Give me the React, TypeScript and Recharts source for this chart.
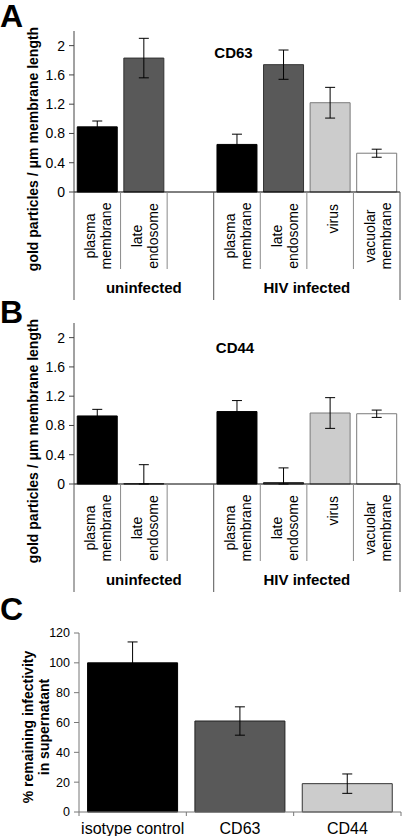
import React from 'react'
import { BarChart, Bar, XAxis, YAxis, Cell, ErrorBar } from 'recharts'

const FONT = '"Liberation Sans", Arial, Helvetica, sans-serif'

// panels A and B: seven slots, two groups
const SLOT_LABELS = [
  ['plasma', 'membrane'],
  ['late', 'endosome'],
  [],
  ['plasma', 'membrane'],
  ['late', 'endosome'],
  ['virus'],
  ['vacuolar', 'membrane'],
]
const GROUP_LABELS = ['uninfected', 'HIV infected']
const GROUP_SIZES = [3, 4]
const SLOT_FILLS = ['#000000', '#595959', '#ffffff', '#000000', '#595959', '#cccccc', '#ffffff']
const SLOT_STROKES = ['#000000', '#333333', '#ffffff', '#000000', '#333333', '#7a7a7a', '#7a7a7a']

const CD63_MEANS = [0.89, 1.83, null, 0.65, 1.74, 1.22, 0.53]
const CD63_ERRORS = [[0.08, 0.08], [0.27, 0.27], null, [0.14, 0.14], [0.2, 0.2], [0.21, 0.21], [0.055, 0.055]]
// late endosome (uninfected) is ~0: a hairline keeps its error bar drawn
const CD44_MEANS = [0.93, 0.004, null, 0.99, 0.02, 0.97, 0.96]
const CD44_ERRORS = [[0.09, 0.09], [0.004, 0.26], null, [0.15, 0.15], [0.02, 0.2], [0.21, 0.21], [0.05, 0.05]]
const EM_TICKS = [0, 0.4, 0.8, 1.2, 1.6, 2]

// panel C
const C_LABELS = ['isotype control', 'CD63', 'CD44']
const C_MEANS = [100, 61, 19]
const C_ERRORS = [14, 9.5, 6.5]
const C_FILLS = ['#000000', '#595959', '#cccccc']
const C_STROKES = ['#000000', '#222222', '#333333']
const C_TICKS = [0, 20, 40, 60, 80, 100, 120]

// layout A/B
const AB_W = 402
const AB_H = 300
const AB_TOP = 31
const AB_YW = 74
const AB_RIGHT = 2
const AB_XH = 108
const AB_BASE = AB_H - AB_XH
const AB_SLOT = (AB_W - AB_YW - AB_RIGHT) / SLOT_LABELS.length

// layout C
const C_W = 402
const C_H = 236
const C_TOP = 33
const C_YW = 79
const C_RIGHT = 1
const C_XH = 24
const C_BASE = C_H - C_XH
const C_SLOT = (C_W - C_YW - C_RIGHT) / C_LABELS.length

const GROUP_STARTS = GROUP_SIZES.map((_, i) => GROUP_SIZES.slice(0, i).reduce((a, b) => a + b, 0))

const cd63Data = SLOT_LABELS.map((_, i) => ({ slot: i, value: CD63_MEANS[i], err: CD63_ERRORS[i] }))
const cd44Data = SLOT_LABELS.map((_, i) => ({ slot: i, value: CD44_MEANS[i], err: CD44_ERRORS[i] }))
const infData = C_LABELS.map((name, i) => ({ name, value: C_MEANS[i], err: C_ERRORS[i] }))

const SlotTick = (props: any) => {
  const { x, payload } = props
  const i = Number(payload.value)
  const left = x - AB_SLOT / 2
  const right = x + AB_SLOT / 2
  const lines = SLOT_LABELS[i]
  const g = GROUP_STARTS.indexOf(i)
  const txt = { fontFamily: FONT, fontSize: 14, fill: '#000' }
  return (
    <g>
      <line x1={left} x2={left} y1={AB_BASE} y2={g >= 0 ? AB_BASE + 108 : AB_BASE + 77}
        stroke={g >= 0 ? '#555' : '#8a8a8a'} strokeWidth={1} />
      {i === SLOT_LABELS.length - 1 && (
        <line x1={right} x2={right} y1={AB_BASE} y2={AB_BASE + 108} stroke="#555" strokeWidth={1} />
      )}
      {lines.length === 1 && (
        <text x={x + 3} y={AB_BASE + 12} transform={`rotate(-90 ${x + 3} ${AB_BASE + 12})`}
          textAnchor="end" dominantBaseline="central" {...txt}>{lines[0]}</text>
      )}
      {lines.length === 2 && lines.map((s, k) => {
        const lx = x + (k === 0 ? -7 : 9)
        const ly = AB_BASE + 44
        return (
          <text key={k} x={lx} y={ly} transform={`rotate(-90 ${lx} ${ly})`}
            textAnchor="middle" dominantBaseline="central" {...txt}>{s}</text>
        )
      })}
      {g >= 0 && (
        <text x={left + (GROUP_SIZES[g] * AB_SLOT) / 2} y={AB_BASE + 95} textAnchor="middle"
          dominantBaseline="central" fontFamily={FONT} fontSize={15} fontWeight="bold" fill="#000">
          {GROUP_LABELS[g]}
        </text>
      )}
    </g>
  )
}

const InfTick = (props: any) => {
  const { x, payload, index } = props
  const left = x - C_SLOT / 2
  const right = x + C_SLOT / 2
  return (
    <g>
      <line x1={left} x2={left} y1={C_BASE} y2={C_BASE + 4} stroke="#777" />
      {index === C_LABELS.length - 1 && <line x1={right} x2={right} y1={C_BASE} y2={C_BASE + 4} stroke="#777" />}
      <text x={x} y={C_BASE + 16} textAnchor="middle" dominantBaseline="central"
        fontFamily={FONT} fontSize={16} fill="#000">{payload.value}</text>
    </g>
  )
}

const PanelDecor = ({ title, titleX, titleY, yTitle, yTitleX, yTitleY }: any) => (
  <g>
    {title && (
      <text x={titleX} y={titleY} textAnchor="middle" fontFamily={FONT} fontSize={15} fontWeight="bold" fill="#000">
        {title}
      </text>
    )}
    {yTitle.map((s: string, k: number) => (
      <text key={k} x={yTitleX[k]} y={yTitleY} transform={`rotate(-90 ${yTitleX[k]} ${yTitleY})`}
        textAnchor="middle" dominantBaseline="central" fontFamily={FONT} fontSize={14} fontWeight="bold" fill="#000">
        {s}
      </text>
    ))}
  </g>
)

const PanelLetter = ({ letter, top }: any) => (
  <div style={{
    position: 'absolute', left: 0, top, fontFamily: FONT, fontSize: 32, fontWeight: 'bold',
    lineHeight: '28px', color: '#000',
  }}>{letter}</div>
)

function MembranePanel({ data, title, titleX, titleY }: any) {
  return (
    <BarChart width={AB_W} height={AB_H} data={data} barCategoryGap="7%"
      margin={{ top: AB_TOP, right: AB_RIGHT, left: 0, bottom: 0 }}>
      <XAxis dataKey="slot" type="category" height={AB_XH} tickLine={false}
        axisLine={{ stroke: '#000' }} tick={<SlotTick />} interval={0} />
      <YAxis type="number" width={AB_YW} domain={[0, 2.2]} ticks={EM_TICKS} interval={0}
        tickSize={5} tickMargin={4} axisLine={{ stroke: '#444' }} tickLine={{ stroke: '#444' }}
        tick={{ fontFamily: FONT, fontSize: 14, fill: '#000' }}
        label={<PanelDecor title={title} titleX={titleX} titleY={titleY}
          yTitle={['gold particles / μm membrane length']} yTitleX={[33]} yTitleY={149} />} />
      <Bar dataKey="value" isAnimationActive={false} strokeWidth={1}>
        {data.map((_: any, i: number) => (
          <Cell key={i} fill={SLOT_FILLS[i]} stroke={SLOT_STROKES[i]} />
        ))}
        <ErrorBar dataKey="err" width={5} stroke="#000" strokeWidth={1} direction="y" />
      </Bar>
    </BarChart>
  )
}

export default function App() {
  return (
    <div style={{ position: 'absolute', left: 0, top: 0, width: 402, height: 836, background: '#fff' }}>
      <div style={{ position: 'absolute', left: 0, top: 0 }}>
        <MembranePanel data={cd63Data} title="CD63" titleX={233.5} titleY={58} />
      </div>
      <div style={{ position: 'absolute', left: 0, top: 292 }}>
        <MembranePanel data={cd44Data} title="CD44" titleX={235} titleY={61} />
      </div>
      <div style={{ position: 'absolute', left: 0, top: 600 }}>
        <BarChart width={C_W} height={C_H} data={infData} barCategoryGap="8%"
          margin={{ top: C_TOP, right: C_RIGHT, left: 0, bottom: 0 }}>
          <XAxis dataKey="name" type="category" height={C_XH} tickLine={false}
            axisLine={{ stroke: '#777' }} tick={<InfTick />} interval={0} />
          <YAxis type="number" width={C_YW} domain={[0, 120]} ticks={C_TICKS} interval={0}
            tickSize={5} tickMargin={4} axisLine={{ stroke: '#777' }} tickLine={{ stroke: '#777' }}
            tick={{ fontFamily: FONT, fontSize: 12.5, fill: '#000' }}
            label={<PanelDecor yTitle={['% remaining infectivity', 'in supernatant']}
              yTitleX={[28, 44]} yTitleY={127} />} />
          <Bar dataKey="value" isAnimationActive={false} strokeWidth={1}>
            {infData.map((_, i) => (
              <Cell key={i} fill={C_FILLS[i]} stroke={C_STROKES[i]} />
            ))}
            <ErrorBar dataKey="err" width={5} stroke="#000" strokeWidth={1} direction="y" />
          </Bar>
        </BarChart>
      </div>
      <PanelLetter letter="A" top={2} />
      <PanelLetter letter="B" top={298} />
      <PanelLetter letter="C" top={595} />
    </div>
  )
}
